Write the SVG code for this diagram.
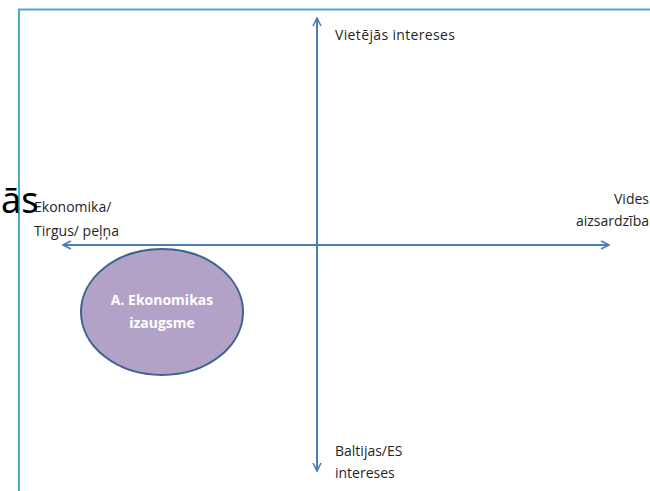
<svg xmlns="http://www.w3.org/2000/svg" width="650" height="491" viewBox="0 0 650 491">
<style>
.lbl{font-family:"Open Sans","Liberation Sans",sans-serif;font-size:14px;fill:#1f1f1f}
.ax{stroke:#4A7EBB;stroke-width:2;fill:none}
</style>
<defs>
<marker id="arr" viewBox="0 0 10 10" refX="9" refY="5" markerWidth="5" markerHeight="5" orient="auto-start-reverse" markerUnits="strokeWidth">
<path d="M1,1 L9,5 L1,9" fill="none" stroke="#4A7EBB" stroke-width="1.6"/>
</marker>
</defs>
<rect width="650" height="491" fill="#fff"/>
<rect id="frame" x="19" y="9.5" width="660" height="500" fill="none" stroke="#4BACC6" stroke-width="2"/>
<g id="connectors">
<line class="ax" x1="317" y1="471" x2="317" y2="18" marker-start="url(#arr)" marker-end="url(#arr)"/>
<line class="ax" x1="63" y1="245" x2="609" y2="245" marker-start="url(#arr)" marker-end="url(#arr)"/>
</g>
<g id="node-a">
<ellipse cx="162" cy="312" rx="81" ry="63" fill="#B3A2C7" stroke="#3F6290" stroke-width="2"/>
<text x="162" y="305" text-anchor="middle" font-family="Open Sans,Liberation Sans,sans-serif" font-weight="bold" font-size="14" fill="#fff">A. Ekonomikas</text>
<text x="162" y="328" text-anchor="middle" font-family="Open Sans,Liberation Sans,sans-serif" font-weight="bold" font-size="14" fill="#fff">izaugsme</text>
</g>
<g id="label-top"><text class="lbl" x="335" y="40" textLength="120">Vietējās intereses</text></g>
<g id="label-bottom"><text class="lbl" x="335" y="456">Baltijas/ES</text><text class="lbl" x="335" y="478">intereses</text></g>
<g id="label-right"><text class="lbl" x="649" y="204" text-anchor="end">Vides</text><text class="lbl" x="649" y="226" text-anchor="end">aizsardzība</text></g>
<g id="label-left"><text class="lbl" x="34" y="212">Ekonomika/</text><text class="lbl" x="34" y="236">Tirgus/ peļņa</text></g>
<text x="1" y="213" font-family="Noto Sans,Open Sans,sans-serif" font-size="36" fill="#000">ās</text>
</svg>
